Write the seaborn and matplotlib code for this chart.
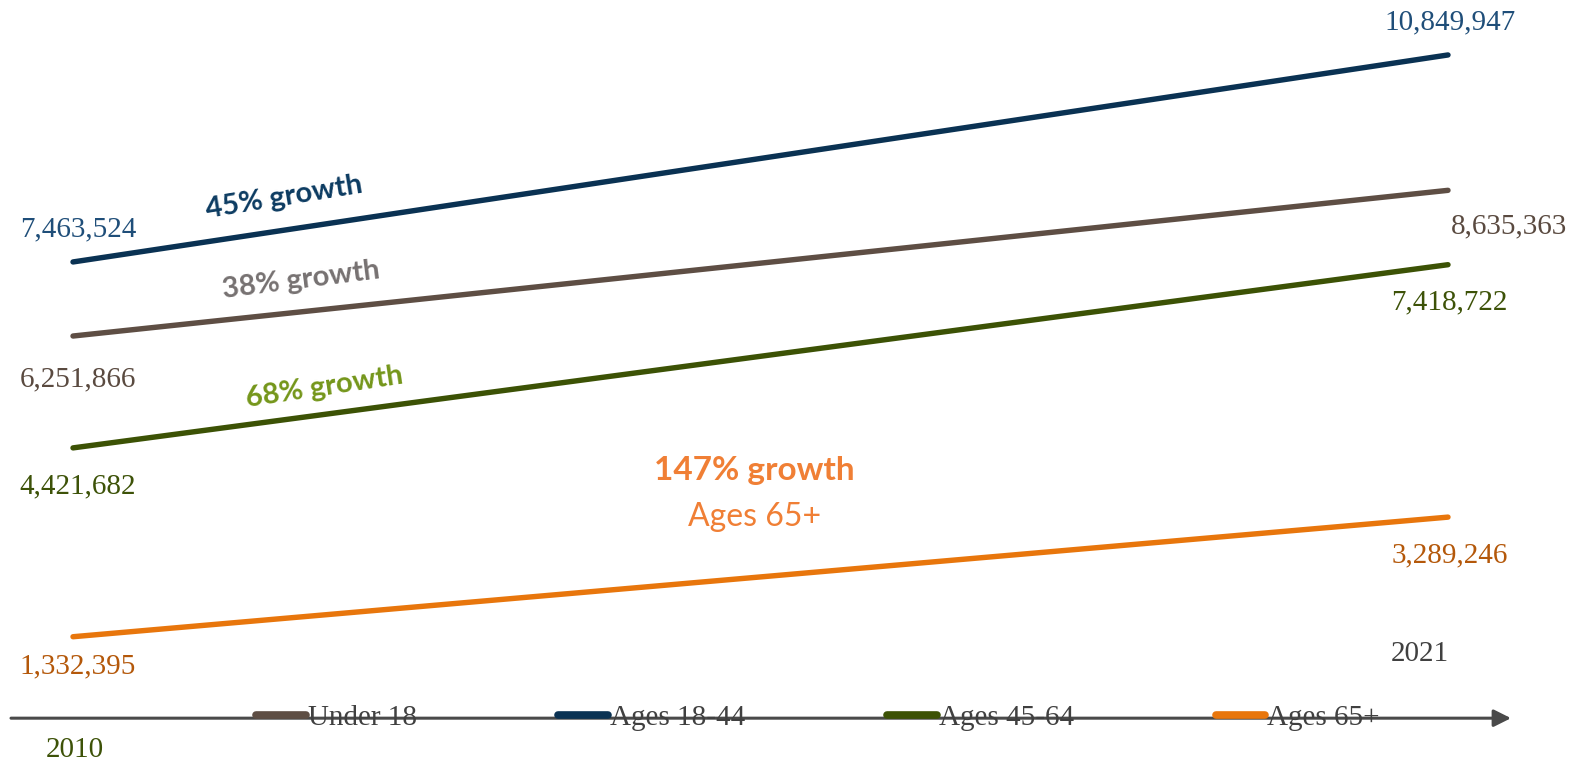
import matplotlib
matplotlib.use("Agg")
import matplotlib.pyplot as plt
from matplotlib.lines import Line2D
import seaborn as sns
import pandas as pd

# Population by age group, 2010 vs 2021
years = [2010, 2021]
groups = ["Under 18", "Ages 18-44", "Ages 45-64", "Ages 65+"]
under_18 = [6251866, 8635363]
ages_18_44 = [7463524, 10849947]
ages_45_64 = [4421682, 7418722]
ages_65_plus = [1332395, 3289246]
growth_labels = ["38% growth", "45% growth", "68% growth", "147% growth"]

line_colors = {
    "Under 18": "#5e4e44",
    "Ages 18-44": "#0a3253",
    "Ages 45-64": "#3c5205",
    "Ages 65+": "#e8760c",
}
value_colors = {
    "Under 18": "#5a4a40",
    "Ages 18-44": "#1f4e79",
    "Ages 45-64": "#3d5208",
    "Ages 65+": "#b4580a",
}

series = {
    "Under 18": under_18,
    "Ages 18-44": ages_18_44,
    "Ages 45-64": ages_45_64,
    "Ages 65+": ages_65_plus,
}
df = pd.DataFrame(
    [(g, y, v) for g in groups for y, v in zip(years, series[g])],
    columns=["group", "year", "value"],
)

sns.set_theme(style="white")
plt.rcParams["font.family"] = ["Liberation Serif", "DejaVu Serif"]

fig = plt.figure(figsize=(15.71, 7.65), dpi=100)
ax = fig.add_axes([0, 0, 1, 1])

sns.lineplot(data=df, x="year", y="value", hue="group", hue_order=groups,
             palette=line_colors, linewidth=3.9, legend=False, ax=ax)
for ln in ax.lines:
    ln.set_solid_capstyle("round")

ax.set_xlim(2009.416, 2021.984)
ax.set_ylim(-766000, 11749000)
ax.axis("off")

# Horizontal axis with arrow head
ax.annotate("", xy=(1511 / 1571, 0), xytext=(11 / 1571, 0),
            xycoords=("axes fraction", "data"), textcoords=("axes fraction", "data"),
            arrowprops=dict(arrowstyle="-|>", color="#4a4a4a", lw=2.2,
                            mutation_scale=26, shrinkA=0, shrinkB=0),
            zorder=1)

NUM = 21
PX = 0.72  # pixel -> point offset


def value_label(group, idx, dx, dy):
    v = series[group][idx]
    ax.annotate(f"{v:,}", xy=(years[idx], v), xytext=(dx * PX, dy * PX),
                textcoords="offset points", ha="center", va="center",
                fontsize=NUM, color=value_colors[group])


value_label("Ages 18-44", 0, 5, 33)
value_label("Under 18", 0, 5, -43)
value_label("Ages 45-64", 0, 5, -38)
value_label("Ages 65+", 0, 5, -30)
value_label("Ages 18-44", 1, 2, 33)
value_label("Under 18", 1, 61, -36)
value_label("Ages 45-64", 1, 1, -38)
value_label("Ages 65+", 1, 2, -38)

ax.annotate("2010", xy=(2010, 0), xytext=(2 * PX, -32 * PX), textcoords="offset points",
            ha="center", va="center", fontsize=NUM, color="#3d5208")
ax.annotate("2021", xy=(2021, 0), xytext=(-28 * PX, 64 * PX), textcoords="offset points",
            ha="center", va="center", fontsize=NUM, color="#404040")

# Growth annotations
sans = ["Lato", "DejaVu Sans"]
ax.text(2011.69, 8520000, growth_labels[1], rotation=9.3, ha="center", va="center",
        fontsize=21, fontweight="bold", color="#0c3b61", family=sans,
        rotation_mode="anchor")
ax.text(2011.82, 7160000, growth_labels[0], rotation=7.2, ha="center", va="center",
        fontsize=21, fontweight="bold", color="#767171", family=sans,
        rotation_mode="anchor")
ax.text(2012.01, 5410000, growth_labels[2], rotation=8.6, ha="center", va="center",
        fontsize=21, fontweight="bold", color="#74961a", family=sans,
        rotation_mode="anchor")
ax.text(2015.45, 4060000, growth_labels[3], ha="center", va="center",
        fontsize=24, fontweight="bold", color="#f07f35", family=sans)
ax.text(2015.45, 3290000, "Ages 65+", ha="center", va="center",
        fontsize=23, color="#f07f35", family=sans)

handles = [Line2D([], [], color=line_colors[g], lw=5.5, solid_capstyle="round")
           for g in groups]
leg = ax.legend(handles, groups, loc="center", bbox_to_anchor=(818 / 1571, 1 - 718 / 765),
                ncol=4, frameon=False, handlelength=1.7, handletextpad=0.08,
                columnspacing=4.85, fontsize=NUM, labelcolor="#404040")

fig.savefig("out.png", dpi=100, facecolor="white")
